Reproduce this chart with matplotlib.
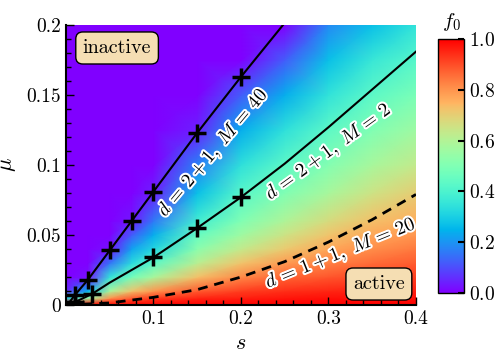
import numpy as np
import matplotlib
matplotlib.use("Agg")
import matplotlib.pyplot as plt
import matplotlib.patheffects as pe

plt.rcParams["font.family"] = "serif"
plt.rcParams["font.serif"] = ["cmr10", "DejaVu Serif"]
plt.rcParams["mathtext.fontset"] = "cm"
plt.rcParams["axes.formatter.use_mathtext"] = True

# heat map of f0 on a coarse grid
s_grid = [0.0, 0.025, 0.05, 0.075, 0.1, 0.15, 0.2, 0.25, 0.3, 0.35, 0.4]
mu_grid = [0.0, 0.005, 0.01, 0.02, 0.03, 0.04, 0.05, 0.06, 0.08, 0.1, 0.125, 0.15, 0.175, 0.2]
# one list per s column, bottom (mu=0) to top (mu=0.2)
f0_cols = [
    [1.0, 0.30, 0.05, 0, 0, 0, 0, 0, 0, 0, 0, 0, 0, 0],
    [1.0, 0.55, 0.25, 0.02, 0, 0, 0, 0, 0, 0, 0, 0, 0, 0],
    [1.0, 0.80, 0.58, 0.35, 0.15, 0.02, 0, 0, 0, 0, 0, 0, 0, 0],
    [1.0, 0.88, 0.72, 0.48, 0.33, 0.22, 0.12, 0.03, 0, 0, 0, 0, 0, 0],
    [1.0, 0.92, 0.80, 0.58, 0.43, 0.32, 0.24, 0.16, 0.04, 0, 0, 0, 0, 0],
    [1.0, 0.95, 0.88, 0.73, 0.61, 0.52, 0.45, 0.38, 0.27, 0.17, 0.04, 0, 0, 0],
    [1.0, 0.96, 0.92, 0.82, 0.72, 0.63, 0.56, 0.50, 0.42, 0.34, 0.24, 0.12, 0.0, 0],
    [1.0, 0.97, 0.94, 0.87, 0.79, 0.71, 0.65, 0.59, 0.50, 0.43, 0.34, 0.24, 0.12, 0.0],
    [1.0, 0.98, 0.95, 0.89, 0.83, 0.77, 0.72, 0.67, 0.58, 0.51, 0.43, 0.35, 0.27, 0.18],
    [1.0, 0.98, 0.96, 0.91, 0.86, 0.81, 0.77, 0.73, 0.65, 0.58, 0.50, 0.43, 0.36, 0.27],
    [1.0, 0.98, 0.96, 0.92, 0.88, 0.84, 0.80, 0.76, 0.70, 0.63, 0.56, 0.49, 0.42, 0.35],
]

# d=2+1, M=40 (markers and line)
s_m40 = [0.01, 0.025, 0.05, 0.075, 0.1, 0.15, 0.2]
mu_m40 = [0.007, 0.018, 0.039, 0.060, 0.081, 0.123, 0.163]
s_m40_line = [0.004, 0.01, 0.025, 0.05, 0.075, 0.1, 0.15, 0.2, 0.248]
mu_m40_line = [0.002, 0.007, 0.018, 0.039, 0.060, 0.081, 0.123, 0.163, 0.2]

# d=2+1, M=2
s_m2 = [0.01, 0.03, 0.1, 0.15, 0.2]
mu_m2 = [0.002, 0.008, 0.034, 0.055, 0.077]
s_m2_line = [0.004, 0.01, 0.03, 0.05, 0.1, 0.15, 0.2, 0.25, 0.3, 0.35, 0.4]
mu_m2_line = [0.001, 0.002, 0.008, 0.016, 0.034, 0.055, 0.077, 0.101, 0.127, 0.154, 0.181]

# d=1+1, M=20 (dashed)
s_m20 = [0.0, 0.05, 0.1, 0.15, 0.2, 0.25, 0.3, 0.35, 0.4]
mu_m20 = [0.0, 0.0015, 0.0055, 0.011, 0.02, 0.031, 0.045, 0.061, 0.079]

fig = plt.figure(figsize=(4.98, 3.55), dpi=100)
ax = fig.add_axes([0.1325, 0.1408, 0.7028, 0.7887])
cax = fig.add_axes([0.8795, 0.1746, 0.0522, 0.7155])

F = np.array(f0_cols).T
S, MU = np.meshgrid(s_grid, mu_grid)
pc = ax.pcolormesh(S, MU, F, shading="gouraud", cmap="rainbow", vmin=0, vmax=1)

ax.plot(s_m40_line, mu_m40_line, color="k", lw=1.5)
ax.plot(s_m40, mu_m40, ls="none", marker="+", ms=13, mew=2.5, color="k")
ax.plot(s_m2_line, mu_m2_line, color="k", lw=1.5)
ax.plot(s_m2, mu_m2, ls="none", marker="+", ms=13, mew=2.5, color="k")
ax.plot(s_m20, mu_m20, color="k", lw=2, ls=(0, (3.5, 2.5)))

stroke = [pe.withStroke(linewidth=3, foreground="white")]
ax.text(0.168, 0.109, r"$d\,=\,2+1,\ M\,=\,40$", rotation=50, fontsize=14,
        ha="center", va="center", rotation_mode="anchor", path_effects=stroke)
ax.text(0.300, 0.1095, r"$d\,=\,2+1,\ M\,=\,2$", rotation=36, fontsize=14,
        ha="center", va="center", rotation_mode="anchor", path_effects=stroke)
ax.text(0.314, 0.037, r"$d\,=\,1+1,\ M\,=\,20$", rotation=22, fontsize=14,
        ha="center", va="center", rotation_mode="anchor", path_effects=stroke)

box = dict(boxstyle="round,pad=0.35", fc="wheat", ec="k", lw=1)
ax.text(0.146, 0.918, "inactive", transform=ax.transAxes, fontsize=14.5,
        ha="center", va="center", bbox=box)
ax.text(0.894, 0.075, "active", transform=ax.transAxes, fontsize=14.5,
        ha="center", va="center", bbox=box)

ax.set_xlim(0, 0.4)
ax.set_ylim(0, 0.2)
ax.set_xticks([0.1, 0.2, 0.3, 0.4])
ax.set_xticklabels(["0.1", "0.2", "0.3", "0.4"])
ax.set_xticks(np.arange(0.02, 0.4, 0.02), minor=True)
ax.set_yticks([0, 0.05, 0.1, 0.15, 0.2])
ax.set_yticklabels(["0", "0.05", "0.1", "0.15", "0.2"])
ax.set_yticks(np.arange(0.01, 0.2, 0.01), minor=True)
ax.tick_params(which="both", direction="in", top=False, right=False, labelsize=14)
ax.tick_params(which="major", length=6, width=1)
ax.tick_params(which="minor", length=3.5, width=1)
ax.spines["top"].set_visible(False)
ax.spines["right"].set_visible(False)
ax.spines["left"].set_linewidth(1.5)
ax.spines["bottom"].set_linewidth(1.5)
ax.set_xlabel(r"$s$", fontsize=16, labelpad=4)
ax.set_ylabel(r"$\mu$", fontsize=16, labelpad=6)

cb = fig.colorbar(pc, cax=cax)
cb.set_ticks([0, 0.2, 0.4, 0.6, 0.8, 1.0])
cb.ax.tick_params(direction="in", length=4, width=1.5, labelsize=14)
cb.outline.set_linewidth(1)
cax.set_title(r"$f_0$", fontsize=15, pad=9)

fig.savefig("out.png", dpi=100)
